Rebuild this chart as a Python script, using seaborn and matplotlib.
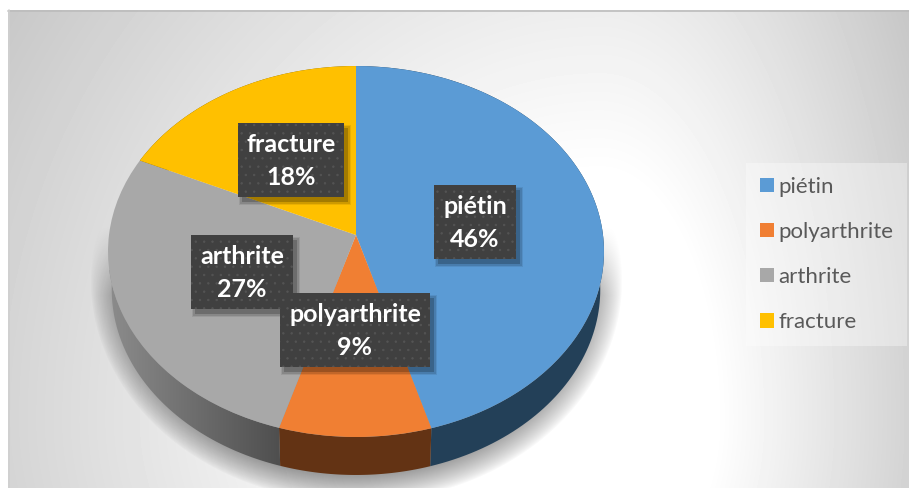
# -*- coding: utf-8 -*-
import numpy as np
import seaborn as sns
import matplotlib
matplotlib.use("Agg")
import matplotlib.pyplot as plt
from matplotlib.colors import LinearSegmentedColormap
from matplotlib.patches import Polygon, Rectangle
from matplotlib.transforms import Transform

categories = ["piétin", "polyarthrite", "arthrite", "fracture"]
values = [45.5, 9.1, 27.3, 18.1]
percent_labels = ["46%", "9%", "27%", "18%"]
top_colors = ["#5B9BD5", "#F07F33", "#A8A8A8", "#FFC000"]
side_colors = ["#234058", "#633314", "#6a6a6a", "#7f6000"]

sns.set_theme(style="white")
plt.rcParams["font.family"] = ["Lato", "DejaVu Sans"]

W, H = 909, 488
CX, CY, RX, RY, K = 356, 235, 247, 184, 0.089
DEPTH = 38


# tilted disc, the near edge looks larger than the far edge
class Tilt(Transform):
    input_dims = 2
    output_dims = 2

    def transform_non_affine(self, xy):
        xy = np.asarray(xy)
        d = 1 + K * xy[:, 1]
        return np.column_stack((CX + RX * xy[:, 0] / d, CY - RY * xy[:, 1] / d))


fig = plt.figure(figsize=(W / 100, H / 100), dpi=100)
ax = fig.add_axes([0, 0, 1, 1])

wedges, _ = ax.pie(values, colors=sns.color_palette(top_colors), startangle=90,
                   counterclock=False, wedgeprops={"zorder": 4, "linewidth": 0})
tilt = Tilt()
for w in wedges:
    w.set_transform(tilt + ax.transData)

# background
xx, yy = np.meshgrid(np.arange(8, W), np.arange(10, H))
dx = (xx - 600) / np.where(xx < 600, 650, 330)
dy = (yy - 420) / np.where(yy < 420, 700, 460)
t = np.clip((np.hypot(dx, dy) - 0.35) / 0.8, 0, 1)
ax.imshow(255 - 60 * t, cmap="gray", vmin=0, vmax=255, extent=(8, W, H, 10),
          aspect="auto", zorder=0)
ax.plot([8, W], [10.5, 10.5], color="#bcbcbc", lw=1.2, zorder=1)
ax.plot([8.5, 8.5], [10, H], color="#d0d0d0", lw=1.2, zorder=1)

# soft shadow under the pie, plus the pale flare beside it
e = np.hypot((xx - 356) / 266, (yy - 280) / 222)
shadow = np.clip((1.0 - e) / 0.12, 0, 1) ** 0.8 * np.clip((yy - 225) / 70, 0, 1) * 0.38
rgba = np.zeros(xx.shape + (4,))
rgba[..., 3] = shadow
ax.imshow(rgba, extent=(8, W, H, 10), aspect="auto", zorder=2)

# side of the disc
for w, c in zip(wedges, side_colors):
    th = np.radians(np.linspace(w.theta1, w.theta2, 120))
    rim = np.column_stack((np.cos(th), np.sin(th)))
    upper = tilt.transform_non_affine(rim)
    lower = upper.copy()
    lower[:, 0] = CX + (lower[:, 0] - CX) * 0.985
    lower[:, 1] += DEPTH
    pts = np.vstack((upper, lower[::-1]))
    if c == "#6a6a6a":
        poly = Polygon(pts, transform=ax.transData)
        ramp = LinearSegmentedColormap.from_list("side", ["#8c8c8c", "#4f4f4f"])
        im = ax.imshow(np.linspace(0, 1, 200)[np.newaxis, :], cmap=ramp,
                       extent=(108, 280, 480, 270), aspect="auto", zorder=3)
        im.set_clip_path(poly)
    else:
        ax.add_patch(Polygon(pts, facecolor=c, edgecolor="none", zorder=3))

# data labels: left, top, right, bottom of each box
boxes = [(434, 185, 516, 259), (280, 293, 430, 367), (191, 235, 293, 309), (238, 123, 344, 197)]
plt.rcParams["hatch.linewidth"] = 0.5
for name, pct, (x0, y0, x1, y1) in zip(categories, percent_labels, boxes):
    for grow, alpha in [(3, 0.08), (2, 0.12), (0, 0.2)]:
        ax.add_patch(Rectangle((x0 + 4 - grow, y0 + 5 - grow), x1 - x0 + 2 * grow, y1 - y0 + 2 * grow,
                               facecolor="black", alpha=alpha, lw=0, zorder=5))
for i, (name, pct, (x0, y0, x1, y1)) in enumerate(zip(categories, percent_labels, boxes)):
    z = 6 + i * 0.1 if name != "polyarthrite" else 7
    ax.add_patch(Rectangle((x0, y0), x1 - x0, y1 - y0, facecolor="#404040", edgecolor="#545454",
                           hatch="..", lw=0, zorder=z))
    ax.text((x0 + x1) / 2, (y0 + y1) / 2 + 1, name + "\n" + pct, color="white", fontweight="bold",
            fontsize=18, ha="center", va="center", linespacing=1.5, zorder=z + 0.05)

leg = ax.legend(wedges, categories, loc="upper left", bbox_to_anchor=(746, 163),
                bbox_transform=ax.transData, fontsize=16, frameon=True, fancybox=False,
                framealpha=0.35, facecolor="white", edgecolor="none", labelcolor="#595959",
                handlelength=0.63, handleheight=0.63, handletextpad=0.22, labelspacing=1.13,
                borderpad=0.62, borderaxespad=0)
leg.set_zorder(8)

ax.set_xlim(0, W)
ax.set_ylim(H, 0)
ax.set_aspect("auto")
ax.axis("off")

fig.savefig("out.png", dpi=100, facecolor="white")
